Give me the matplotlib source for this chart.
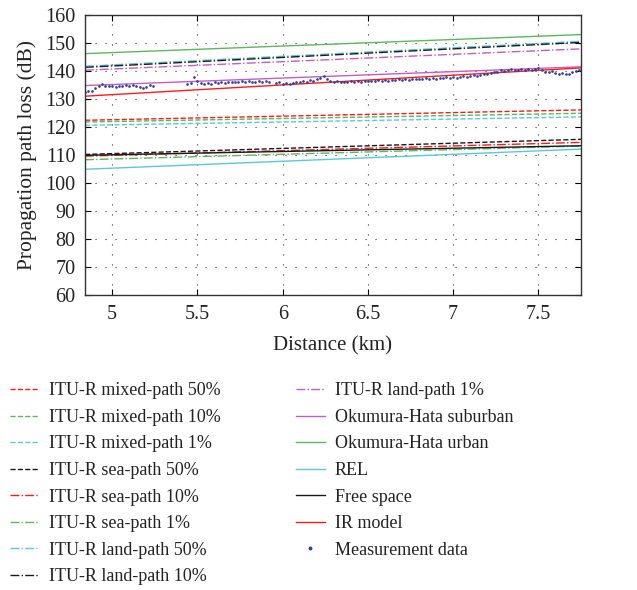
import numpy as np
import matplotlib.pyplot as plt

plt.rcParams['font.family'] = ['Liberation Serif', 'DejaVu Serif']
plt.rcParams['font.size'] = 13
plt.rcParams['text.color'] = '#222222'
plt.rcParams['axes.labelcolor'] = '#222222'

# line end points (distance in km, loss in dB)
dist = [4.84, 7.75]

mixed_50 = [122.4, 126.1]
mixed_10 = [121.8, 124.9]
mixed_1 = [120.6, 123.6]
sea_50 = [110.2, 115.6]
sea_10 = [109.6, 114.5]
sea_1 = [108.3, 113.2]
land_50 = [141.7, 150.6]
land_10 = [141.3, 150.2]
land_1 = [140.3, 147.9]
hata_suburban = [134.8, 141.5]
hata_urban = [146.2, 153.0]
rel = [104.9, 112.1]
free_space = [109.9, 113.3]
ir_model = [131.0, 141.1]

# measurement data, sampled every 0.02 km from 4.84 km
meas_start = 4.84
meas_step = 0.02
meas_loss = [
    132.5, 133.0, 132.8, 133.8, 134.5, 135.2, 134.6, 134.8, 134.5, 134.3,
    134.8, 134.6, 135.0, 134.7, 135.0, 134.6, 134.2, 133.9, 134.3, 135.0,
    134.8, np.nan, np.nan, np.nan, np.nan, np.nan, np.nan, np.nan, np.nan, np.nan,
    135.3, 135.6, 137.8, 136.4, 135.6, 135.4, 135.8, 135.5, 135.9, 135.6,
    136.0, 135.8, 136.1, 135.9, 136.2, 136.0, 136.3, 136.1, 136.4, 136.2,
    136.0, 136.3, 136.1, 136.4, 136.2, np.nan, 135.6, 135.9, 135.4, 135.6,
    135.3, 135.8, 135.9, 136.1, 136.4, 136.2, 136.8, 136.5, 137.0, 137.4,
    138.2, 137.3, 136.5, 136.1, 136.3, 135.9, 136.2, 136.0, 136.3, 136.1,
    136.4, 136.2, 136.5, 136.3, 136.6, 136.4, 136.7, 136.5, 136.8, 136.6,
    136.9, 136.7, 137.0, 136.8, 137.1, 136.9, 137.2, 137.0, 137.3, 137.1,
    137.4, 137.2, 137.5, 137.3, 137.6, 137.4, 137.7, 137.5, 137.8, 137.6,
    137.9, 138.1, 137.9, 138.3, 138.5, 138.3, 138.7, 138.9, 138.8, 139.2,
    139.5, 139.8, 140.2, 140.0, 140.4, 140.6, 140.2, 140.5, 140.7, 140.3,
    140.6, 140.2, 140.8, 141.2, 140.4, 139.8, 139.5, 139.9, 139.3, 139.0,
    139.4, 138.8, 139.1, 139.6, 140.1, 140.5,
]
meas_dist = meas_start + meas_step * np.arange(len(meas_loss))

red = '#ff1a1a'
green = '#5cb85c'
cyan = '#5bc8d8'
black = '#1a1a1a'
magenta = '#c25ec2'

fig = plt.figure(figsize=(6.37, 5.90), dpi=100)
ax = fig.add_axes([0.1334, 0.5, 0.7787, 0.4746])

lw = 1.0
ax.plot(dist, mixed_50, '--', color=red, lw=lw, label='ITU-R mixed-path 50%')
ax.plot(dist, mixed_10, '--', color=green, lw=lw, label='ITU-R mixed-path 10%')
ax.plot(dist, mixed_1, '--', color=cyan, lw=lw, label='ITU-R mixed-path 1%')
ax.plot(dist, sea_50, '--', color=black, lw=lw, label='ITU-R sea-path 50%')
ax.plot(dist, sea_10, '-.', color=red, lw=lw, label='ITU-R sea-path 10%')
ax.plot(dist, sea_1, '-.', color=green, lw=lw, label='ITU-R sea-path 1%')
ax.plot(dist, land_50, '-.', color=cyan, lw=lw, label='ITU-R land-path 50%')
ax.plot(dist, land_10, '-.', color=black, lw=lw, label='ITU-R land-path 10%')
ax.plot(dist, land_1, '-.', color=magenta, lw=lw, label='ITU-R land-path 1%')
ax.plot(dist, hata_suburban, '-', color=magenta, lw=lw, label='Okumura-Hata suburban')
ax.plot(dist, hata_urban, '-', color=green, lw=lw, label='Okumura-Hata urban')
ax.plot(dist, rel, '-', color=cyan, lw=lw, label='REL')
ax.plot(dist, free_space, '-', color=black, lw=lw, label='Free space')
ax.plot(dist, ir_model, '-', color=red, lw=lw, label='IR model')
ax.plot(meas_dist, meas_loss, '.', color='#2b3f9e', markersize=1.8, lw=0,
        label='Measurement data')

ax.set_xlim(4.84, 7.75)
ax.set_ylim(60, 160)
ax.set_xticks([5, 5.5, 6, 6.5, 7, 7.5])
ax.set_xticklabels(['5', '5.5', '6', '6.5', '7', '7.5'])
ax.set_yticks(np.arange(60, 161, 10))
ax.tick_params(direction='in', top=True, right=True, length=4, width=0.8,
               labelsize=14.5, pad=7, labelcolor='#222222')
ax.yaxis.grid(True, linestyle=(0, (1, 8)), color='#333333', lw=0.8)
ax.xaxis.grid(True, linestyle=(0, (1, 8)), color='#333333', lw=0.8)
for s in ax.spines.values():
    s.set_linewidth(1.0)
    s.set_color('#333333')

ax.set_xlabel('Distance (km)', fontsize=15, labelpad=9)
ax.set_ylabel('Propagation path loss (dB)', fontsize=15.5, labelpad=6)

fig.legend(loc='upper left', bbox_to_anchor=(0.016, 0.352), ncol=2,
           frameon=False, handlelength=1.6, handletextpad=0.55,
           columnspacing=4.17, labelspacing=0.53, markerscale=2,
           borderaxespad=0, borderpad=0)

fig.savefig('out.png', dpi=100)
